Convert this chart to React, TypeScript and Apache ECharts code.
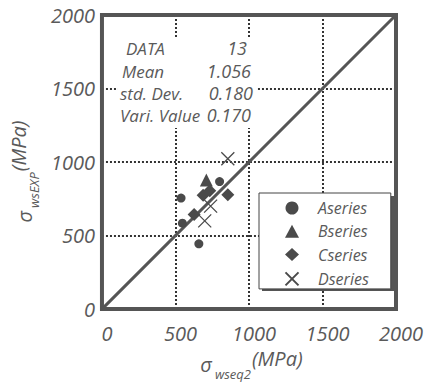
import React, { useEffect, useRef } from "react";
import * as echarts from "echarts";

const xTicks = [0, 500, 1000, 1500, 2000];
const aSeries: [number, number][] = [[538, 755], [547, 584], [659, 444], [800, 867]];
const bSeries: [number, number][] = [[710, 878]];
const cSeries: [number, number][] = [[688, 775], [733, 805], [856, 778], [627, 644]];
const dSeries: [number, number][] = [[856, 1022], [739, 700], [699, 600]];
const equalityLine: [number, number][] = [[0, 0], [2000, 2000]];
const statLabels = ["DATA", "Mean", "std. Dev.", "Vari. Value"];
const statValues = ["13", "1.056", "0.180", "0.170"];
const seriesNames = ["Aseries", "Bseries", "Cseries", "Dseries"];

const FONT = "'Open Sans', 'DejaVu Sans', sans-serif";
const INK = "#4a4a4a";
const TXT = "#5a5a5a";
const CROSS = "path://M0,0L10,10M10,0L0,10";

export default function App() {
  const ref = useRef<HTMLDivElement>(null);
  useEffect(() => {
    if (!ref.current) return;
    const chart = echarts.init(ref.current, undefined, { renderer: "svg" });
    const nameRich = {
      s: { fontSize: 20, fontFamily: FONT, fontStyle: "italic", color: TXT, lineHeight: 32, verticalAlign: "middle" },
      sub: { fontSize: 13, fontFamily: FONT, fontStyle: "italic", color: TXT, lineHeight: 14, verticalAlign: "bottom", padding: [0, 1, 0, 3] },
      m: { fontSize: 20, fontFamily: FONT, fontStyle: "italic", color: TXT, lineHeight: 24, verticalAlign: "top" },
    };
    const statGraphics: any[] = [
      { type: "rect", shape: { x: 118, y: 38, width: 138, height: 90 }, style: { fill: "#fff" }, z: 9 },
      { type: "rect", shape: { x: 262, y: 196, width: 134, height: 95 }, style: { fill: "#555" }, z: 9 },
    ];
    const labelX = [126, 122, 120, 120];
    const valueRight = [247, 251, 253, 251];
    const rowY = [48, 71, 93, 115];
    statLabels.forEach((l, i) => {
      statGraphics.push({
        type: "text", x: labelX[i], y: rowY[i], z: 10,
        style: { text: l, font: `italic 17px ${FONT}`, fill: TXT, verticalAlign: "middle", align: "left" },
      });
      statGraphics.push({
        type: "text", x: valueRight[i], y: rowY[i], z: 10,
        style: { text: statValues[i], font: `italic 18px ${FONT}`, fill: TXT, verticalAlign: "middle", align: "right" },
      });
    });
    const axisCommon = {
      type: "value",
      min: xTicks[0],
      max: xTicks[xTicks.length - 1],
      interval: xTicks[1] - xTicks[0],
      axisLine: { show: false },
      axisTick: { show: false },
      splitLine: { show: true, lineStyle: { color: "#333", width: 2, type: [2, 2] } },
    };
    const fmt = (v: number) => String(v);
    chart.setOption({
      animation: false,
      backgroundColor: "#fff",
      grid: { left: 98, right: 37, top: 15, bottom: 70, show: true, borderColor: "#555", borderWidth: 4, backgroundColor: "transparent", z: 3 },
      xAxis: {
        ...axisCommon,
        axisLabel: { formatter: fmt, fontSize: 20, fontFamily: FONT, fontStyle: "italic", color: TXT, margin: 14, padding: [0, 0, 0, 10], showMaxLabel: true, showMinLabel: true },
        name: "{s|σ}{sub|wseq2}{m|(MPa)}",
        nameLocation: "middle",
        nameGap: 36,
        nameTextStyle: { rich: nameRich, padding: [0, 0, 0, 5] },
      },
      yAxis: {
        ...axisCommon,
        axisLabel: { formatter: fmt, fontSize: 20, fontFamily: FONT, fontStyle: "italic", color: TXT, margin: 7 },
        name: "{s|σ}{sub|wsEXP}{m|(MPa)}",
        nameLocation: "middle",
        nameRotate: 90,
        nameGap: 56,
        nameTextStyle: { rich: nameRich, padding: [0, 19, 0, 0] },
      },
      legend: {
        orient: "vertical",
        left: 259,
        top: 193,
        data: seriesNames,
        itemWidth: 14,
        itemHeight: 13,
        itemGap: 7.3,
        padding: [7, 22, 1, 24],
        backgroundColor: "#fff",
        borderColor: "#444",
        borderWidth: 1,
        borderRadius: 0,
        textStyle: { fontSize: 16, fontFamily: FONT, fontStyle: "italic", color: TXT, padding: [0, 0, 0, 14] },
        z: 10,
      },
      graphic: statGraphics,
      series: [
        {
          type: "line",
          data: equalityLine,
          symbol: "none",
          lineStyle: { color: "#555", width: 3 },
          z: 1,
          silent: true,
        },
        {
          name: seriesNames[0], type: "scatter", data: aSeries, symbol: "circle", symbolSize: 9,
          itemStyle: { color: INK, opacity: 1 }, z: 4,
        },
        {
          name: seriesNames[1], type: "scatter", data: bSeries, symbol: "triangle", symbolSize: 13,
          itemStyle: { color: INK, opacity: 1 }, z: 4,
        },
        {
          name: seriesNames[2], type: "scatter", data: cSeries, symbol: "diamond", symbolSize: 13,
          itemStyle: { color: INK, opacity: 1 }, z: 4,
        },
        {
          name: seriesNames[3], type: "scatter", data: dSeries, symbol: CROSS, symbolSize: 13,
          itemStyle: { color: "none", borderColor: INK, borderWidth: 1.3, opacity: 1 }, z: 4,
        },
      ],
    });
    return () => chart.dispose();
  }, []);
  return <div ref={ref} style={{ width: 433, height: 385, position: "absolute", left: 0, top: 0 }} />;
}
